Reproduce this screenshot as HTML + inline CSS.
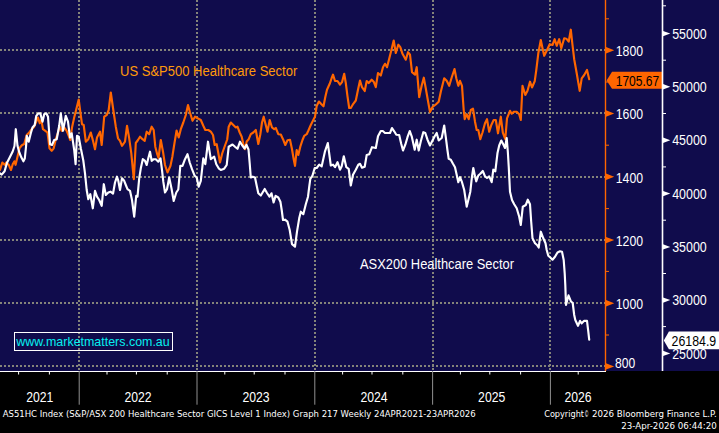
<!DOCTYPE html>
<html lang="en"><head><meta charset="utf-8"><title>Healthcare Sector Chart</title>
<style>html,body{margin:0;padding:0;background:#000;}body{width:719px;height:433px;overflow:hidden;}svg{display:block;}text{font-family:"Liberation Sans",sans-serif;}text.ft{font-family:"DejaVu Sans","Liberation Sans",sans-serif;}</style></head><body>
<svg width="719" height="433" viewBox="0 0 719 433">
<rect x="0" y="0" width="719" height="433" fill="#000"/>
<rect x="0" y="0" width="719" height="371" fill="#100c4c"/>
<g stroke="#84847a" stroke-width="2" stroke-dasharray="2 2" shape-rendering="crispEdges" fill="none">
<line x1="0" y1="50" x2="605" y2="50"/>
<line x1="0" y1="113" x2="605" y2="113"/>
<line x1="0" y1="177" x2="605" y2="177"/>
<line x1="0" y1="240" x2="605" y2="240"/>
<line x1="0" y1="303" x2="605" y2="303"/>
<line x1="0" y1="366" x2="605" y2="366"/>
<line x1="79" y1="0" x2="79" y2="371"/>
<line x1="197" y1="0" x2="197" y2="371"/>
<line x1="315" y1="0" x2="315" y2="371"/>
<line x1="433" y1="0" x2="433" y2="371"/>
<line x1="550" y1="0" x2="550" y2="371"/>
</g>
<polyline fill="none" stroke="#ff6600" stroke-width="2.15" stroke-linejoin="round" stroke-linecap="round" points="0,170 2.3,162.5 4.6,164.8 6.3,162.5 8.7,164.8 11,170 12.7,164.2 14.4,161.3 15.6,164.8 17.9,155 19.6,148 21.9,145.2 24.2,144 26.7,135 29.2,132.5 31.7,129.2 34.2,126.7 36.3,121.7 38,117.5 39.7,123.3 41.3,120 43,129.2 45.3,130.8 47.5,132.5 49.5,148.3 51.7,150.8 53.7,148.3 55.8,139.2 58,132.5 59.7,126.7 61.7,130.8 64.2,127.5 66.7,130.8 68.7,135.8 70.3,140 72,127.5 74.2,117.5 76.3,109.2 78.7,99.5 80.3,111.7 82,124.2 83.7,125 85.8,141.7 88.3,139.2 90.8,132.5 93,140.8 95,149.2 97,137.5 100,131.7 101.7,145 104.2,116.7 106.7,115 108.7,110 110.8,92.5 113.3,110 115.8,126.7 118,138.3 120,140.8 122,145.8 125,141.7 127,125.8 129.2,138.3 131.3,153.3 133.8,179.2 135.8,143 138,140 140,136.7 142.5,139.2 144.7,140.8 146.7,131.7 149.2,134.2 151.7,126.7 153.7,130 155.3,146.7 157.2,154.2 158.5,158 160.8,140 163,151.7 165,165 167.5,172.5 170.5,165.8 172.3,157 174.5,143 176.6,130.5 178.7,137.5 180.8,129.2 183.3,122.5 185.8,115 188,105 190,112.5 192.5,120.8 195,116.7 197.5,118.3 200.8,120 203.3,125.8 205.3,130 208.3,130 210.8,131.7 213,135 214.7,145 216.7,144.2 218.3,153 220,162.5 222.2,153.5 225,145.5 227.2,139.5 228.7,126.7 230.8,122.5 233.3,125 235.8,127.5 237.5,126.7 239.7,132.5 241.7,136.7 243.3,143.8 245,149.2 246.7,141.5 248.7,139.2 250.8,134.2 253.3,132.5 255.8,130 258.3,144 260.3,134.5 262,122.5 263.7,116.7 265.3,123.3 267.5,131.7 269.7,120 272,127.5 274.2,129.2 275.8,128 278.3,134.2 280.8,134.5 283,139.2 285.3,145 287.5,140.3 290,139.8 292,149.2 293.7,159.2 295,165.8 296.7,150 298.3,155 300.3,146.7 302.5,140 304.2,135.8 306.7,134.2 308.3,130.8 310.8,125 313.3,120 315,116.7 316.7,106 318.9,101.5 321.2,104 323.5,106.3 325.3,97 327,89.7 329.7,83.8 331.7,78 333,74.7 335,81 337.5,81 340,84.7 342,82.2 344.2,73.8 345.8,83 347.5,96.3 349.2,108 350.8,108 353.3,103.8 355.8,100.5 358,89.7 360,80.5 362,87.2 364.7,91 366.7,81 368.7,83 371.7,79.7 373.7,81.7 375.8,87.2 378,73 380.8,75.5 383,67.2 385,63.8 387,67.2 389.2,58.8 391.7,48.8 393.7,40.5 395.8,53 398.3,44.7 400.3,47.2 402.5,53.8 405.8,59.7 408,52.2 410,54.7 412,72.2 415,74.7 416.7,67.2 419.2,97.2 421.7,85.5 423.8,77.7 425.8,88.5 428,101 430,112 432.5,107 435.8,104.5 438.7,101.7 440.8,91.7 444.2,78.3 446.7,80.8 449.2,85.8 451.7,77.5 454.5,69 456.3,78.3 458.3,85.8 460,80.8 462,85.8 463.7,110 464.7,119.2 466.7,114.2 468.7,119.2 470.8,110 473,108.7 475,121.7 476.7,130 478.3,130 480.3,139.2 482.5,132.5 485,123.3 487,119.2 489.2,131.7 491.3,125 493.7,120 495.8,120 498,133.3 500.8,116.7 502.8,132.5 505.3,139.2 507,118.3 510,110.8 511.7,113.7 514.2,111.7 516.7,111.7 519.2,114.2 520.8,120 522.5,85.8 525.3,95 527.5,90.8 530,81.7 532,87.5 534.7,81.3 536.3,70 538.3,53.3 540.8,40 542.5,48.3 544.2,55.8 546.7,50.8 549.7,44.2 552.5,45 554.7,39.2 556.7,45.8 559.2,39.2 561.3,48.3 564.2,38.3 566.3,38.7 568.7,41.7 570.8,29.7 572.5,45 574.2,59.2 576.7,73.3 579.7,90.8 581.7,78.3 584.2,75 587,70 589.2,79.2"/>
<polyline fill="none" stroke="#ffffff" stroke-width="2.15" stroke-linejoin="round" stroke-linecap="round" points="0,173.5 1.7,174.6 4.6,171.2 6.9,163.1 9.8,157.3 12.7,151.5 14.5,146 15.8,129.2 17.5,145.8 19,151.5 21.3,157.3 23.4,161.3 24.8,158.5 26,147 26.8,135.8 28.7,141.7 30.8,133.3 32.5,127.5 34.7,125 36.3,115.8 38.3,113.3 40.3,113.3 42.5,121.7 44.2,114.2 46.3,113.3 48,116.7 50,144.2 52,145 54.2,140 56.7,139.2 59.2,125.8 60.8,113.3 63,130.8 65.8,115.8 68,121.7 70,137.5 71.7,133.3 74.2,150 75.6,164.2 77,135.8 78.7,136.7 80.8,148.3 83.3,160.5 85,173.3 86.7,190 88.3,199.2 90.3,194.2 92.8,208.3 95,190.8 97,196.7 99.2,200 101.7,205.8 103.8,184.2 105.8,195 108.3,192.5 110.5,191.7 113,193.7 115,182.5 117,176.7 118.3,180.8 120,190 122,178.3 124.2,180.8 125.8,185 127.5,189.2 130,190.8 132,200 134.2,216.7 136.2,195.8 137.5,196.7 139.2,178.3 140.8,168.3 142.8,159.2 145,160.8 146.7,165 148.3,158.3 150,151.7 151.7,160.8 153.7,159.2 155.8,159.2 158.3,161.7 160.5,158.3 162,170 163.3,181.7 165,192.5 167,189.2 169.2,177.5 171.5,188.5 173.7,201 176.3,192.5 178.3,189.5 180.3,165.8 182.5,165.8 185,159.2 187.5,154.2 189.7,162.5 192,169.2 194.7,175.8 196.7,177.5 198.7,186.7 200.8,180.8 203.3,158.3 205.3,164.2 208,141.7 210.8,159.2 214.2,156.7 216.3,164.2 218.7,168.3 220.8,170 224.2,168.7 226.7,165 228.7,146.7 232.5,144.5 235,146.7 237.5,148.8 240,141.7 242,145 244.6,148.5 246.5,144.8 248.5,149.5 249.7,163.3 250.8,177.5 252.8,176.7 255,177.5 256.7,185.8 258.3,193.3 260.8,195.5 262.3,193 264.7,189 267,193 269.5,196.7 271.5,193.3 273.6,202.5 275.6,195.8 278.3,197.5 280.4,201.7 281.7,210 283,220 285,219.7 287.5,221.7 289.7,230 292,244.2 295,246.7 297,231.7 299.2,218.3 300.8,211.7 303.3,214.2 305.8,204.2 308,196.7 309.2,187 310.3,178.8 312.5,175.5 314.7,168 316.7,168 319.2,164.7 321.7,166.3 325,151.3 327.8,143 330.8,165.5 333,164.7 335,167.2 337.5,162.2 340,169.7 341.7,166.3 343.8,156.3 346.3,167.2 348.7,168.8 350.8,185.5 353,174.7 355.8,169.7 358.3,164.7 360,163.8 362,167.7 364.7,166.7 366.7,155 369.2,154.3 372,147.2 375.8,148 378,136.3 380.8,131 382.8,131 385,133 390,133 392,128 394.2,131.3 396.3,134.7 399.2,135 401.2,143.8 403,150.5 405.3,144.7 407.5,137.2 409.7,131 411.7,136.3 414.7,149.7 416.7,139.7 418.7,150.5 420.8,141.3 423.3,132.2 425.3,133 427.5,139.7 430,145.5 432.5,140.5 434.7,136.3 436.7,133 438.7,140.5 441.7,138 444.2,125.5 445.8,137.2 447.5,150.5 448.7,158.8 450.8,159.7 453,163.8 455,167.2 457,176.3 458.3,182.2 460,177.2 462,182.2 464.2,190 466.7,206.7 470.3,191.7 472,176.3 473.3,168 475,176.3 476.2,181.3 478.3,175.5 480.3,173.8 482.8,171 485,176.3 487,178 489.2,176.3 491.7,182.2 493.3,169.7 495.3,171.3 497.5,153 499.2,145.5 501.3,140.5 503,143.8 505,148 506.7,138 507.8,151.3 508.8,168 510,191.7 512,200 514.2,204.2 516.7,208.3 519.2,216.7 520.8,225 522.8,206.7 525.8,205 527.8,199.7 530,204.2 531.2,221.7 532.5,238.3 535,243.3 537,245 538.7,247.5 540.8,231.7 543.3,238.3 545.5,243.3 546.7,250 548.3,255.8 550.3,257.5 552.5,259.7 555,256.7 557.5,252.5 560,251.3 562,251.7 563.7,260 564.7,273.3 565.3,285 566,305 568.5,295.4 570.8,301.2 572.7,303 574.2,315 575.3,320 578,325.8 580,320.8 581.7,323.3 584.2,320.8 587,320.8 588.3,331.7 589.2,339.7"/>
<rect x="0" y="371" width="606" height="1" fill="#fff"/>
<rect x="18.1" y="371" width="1" height="3.5" fill="#fff"/>
<rect x="48.9" y="371" width="1" height="3.5" fill="#fff"/>
<rect x="106.5" y="371" width="1" height="3.5" fill="#fff"/>
<rect x="135.9" y="371" width="1" height="3.5" fill="#fff"/>
<rect x="166.7" y="371" width="1" height="3.5" fill="#fff"/>
<rect x="224.3" y="371" width="1" height="3.5" fill="#fff"/>
<rect x="253.7" y="371" width="1" height="3.5" fill="#fff"/>
<rect x="284.5" y="371" width="1" height="3.5" fill="#fff"/>
<rect x="342.1" y="371" width="1" height="3.5" fill="#fff"/>
<rect x="371.5" y="371" width="1" height="3.5" fill="#fff"/>
<rect x="402.3" y="371" width="1" height="3.5" fill="#fff"/>
<rect x="459.9" y="371" width="1" height="3.5" fill="#fff"/>
<rect x="489.3" y="371" width="1" height="3.5" fill="#fff"/>
<rect x="520.1" y="371" width="1" height="3.5" fill="#fff"/>
<rect x="577.7" y="371" width="1" height="3.5" fill="#fff"/>
<rect x="78.7" y="371" width="1" height="33.7" fill="#909090"/>
<rect x="196.5" y="371" width="1" height="33.7" fill="#909090"/>
<rect x="314.3" y="371" width="1" height="33.7" fill="#909090"/>
<rect x="432.1" y="371" width="1" height="33.7" fill="#909090"/>
<rect x="549.9" y="371" width="1" height="33.7" fill="#909090"/>
<polygon points="606.6,80.4 612,71.8 662,71.8 662,88.8 612,88.8" fill="#ff6600"/>
<polygon points="662.6,340.5 668.4,330.8 719,330.8 719,350 668.4,350" fill="#100c4c"/>
<polygon points="663.8,340.5 668.9,331.6 719,331.6 719,349.2 668.9,349.2" fill="#fff"/>
<rect x="604.8" y="0" width="1.4" height="371" fill="#ff6600"/>
<polygon points="606,47.1 614.2,50.3 606,53.5" fill="#ff6600"/>
<polygon points="606,110.3 614.2,113.5 606,116.7" fill="#ff6600"/>
<polygon points="606,173.6 614.2,176.8 606,180.0" fill="#ff6600"/>
<polygon points="606,236.9 614.2,240.1 606,243.3" fill="#ff6600"/>
<polygon points="606,300.1 614.2,303.3 606,306.5" fill="#ff6600"/>
<polygon points="606,363.2 614.2,366.4 606,369.6" fill="#ff6600"/>
<rect x="606" y="18.3" width="3" height="1" fill="#ff6600"/>
<rect x="606" y="81.5" width="3" height="1" fill="#ff6600"/>
<rect x="606" y="144.7" width="3" height="1" fill="#ff6600"/>
<rect x="606" y="208.1" width="3" height="1" fill="#ff6600"/>
<rect x="606" y="270.9" width="3" height="1" fill="#ff6600"/>
<rect x="606" y="334.5" width="3" height="1" fill="#ff6600"/>
<rect x="661.7" y="0" width="1.6" height="371" fill="#fff"/>
<polygon points="663,30.9 670.3,33.6 663,36.3" fill="#fff"/>
<polygon points="663,84.1 670.3,86.8 663,89.5" fill="#fff"/>
<polygon points="663,137.5 670.3,140.2 663,142.9" fill="#fff"/>
<polygon points="663,190.9 670.3,193.6 663,196.3" fill="#fff"/>
<polygon points="663,244.2 670.3,246.9 663,249.6" fill="#fff"/>
<polygon points="663,297.4 670.3,300.1 663,302.8" fill="#fff"/>
<polygon points="663,350.7 670.3,353.4 663,356.1" fill="#fff"/>
<rect x="663" y="5.3" width="3" height="1" fill="#fff"/>
<rect x="663" y="59.7" width="3" height="1" fill="#fff"/>
<rect x="663" y="113.0" width="3" height="1" fill="#fff"/>
<rect x="663" y="166.4" width="3" height="1" fill="#fff"/>
<rect x="663" y="219.7" width="3" height="1" fill="#fff"/>
<rect x="663" y="273.0" width="3" height="1" fill="#fff"/>
<rect x="663" y="326.1" width="3" height="1" fill="#fff"/>
<text x="615.8" y="55.8" font-size="14" fill="#fff" textLength="27.3" lengthAdjust="spacingAndGlyphs">1800</text>
<text x="615.8" y="119.0" font-size="14" fill="#fff" textLength="27.3" lengthAdjust="spacingAndGlyphs">1600</text>
<text x="615.8" y="183.0" font-size="14" fill="#fff" textLength="27.3" lengthAdjust="spacingAndGlyphs">1400</text>
<text x="615.8" y="245.7" font-size="14" fill="#fff" textLength="27.3" lengthAdjust="spacingAndGlyphs">1200</text>
<text x="615.8" y="308.8" font-size="14" fill="#fff" textLength="27.3" lengthAdjust="spacingAndGlyphs">1000</text>
<text x="615.0" y="367.9" font-size="14" fill="#fff" textLength="20.2" lengthAdjust="spacingAndGlyphs">800</text>
<text x="672.2" y="38.8" font-size="14" fill="#fff" textLength="34.6" lengthAdjust="spacingAndGlyphs">55000</text>
<text x="672.2" y="92.0" font-size="14" fill="#fff" textLength="34.6" lengthAdjust="spacingAndGlyphs">50000</text>
<text x="672.2" y="145.4" font-size="14" fill="#fff" textLength="34.6" lengthAdjust="spacingAndGlyphs">45000</text>
<text x="672.2" y="198.8" font-size="14" fill="#fff" textLength="34.6" lengthAdjust="spacingAndGlyphs">40000</text>
<text x="672.2" y="252.1" font-size="14" fill="#fff" textLength="34.6" lengthAdjust="spacingAndGlyphs">35000</text>
<text x="672.2" y="305.3" font-size="14" fill="#fff" textLength="34.6" lengthAdjust="spacingAndGlyphs">30000</text>
<text x="672.2" y="358.6" font-size="14" fill="#fff" textLength="34.6" lengthAdjust="spacingAndGlyphs">25000</text>
<text x="615.7" y="86.1" font-size="14" fill="#000" textLength="43.6" lengthAdjust="spacingAndGlyphs">1705.67</text>
<text x="671.6" y="345.8" font-size="14" fill="#000" textLength="44.6" lengthAdjust="spacingAndGlyphs">26184.9</text>
<text x="120" y="76" font-size="14" fill="#ff9a0a" textLength="177.3" lengthAdjust="spacingAndGlyphs">US S&amp;P500 Healthcare Sector</text>
<text x="360" y="269.4" font-size="14" fill="#fff" textLength="154" lengthAdjust="spacingAndGlyphs">ASX200 Healthcare Sector</text>
<rect x="14.5" y="332.5" width="158" height="18" fill="none" stroke="#fff" stroke-width="1" shape-rendering="crispEdges"/>
<text x="16.3" y="346.3" font-size="13.5" fill="#06f0f0" textLength="153.4" lengthAdjust="spacingAndGlyphs">www.marketmatters.com.au</text>
<text x="26.2" y="402" font-size="14" fill="#fff" textLength="27.2" lengthAdjust="spacingAndGlyphs">2021</text>
<text x="124.4" y="402" font-size="14" fill="#fff" textLength="27.2" lengthAdjust="spacingAndGlyphs">2022</text>
<text x="242.4" y="402" font-size="14" fill="#fff" textLength="27.2" lengthAdjust="spacingAndGlyphs">2023</text>
<text x="360.4" y="402" font-size="14" fill="#fff" textLength="27.2" lengthAdjust="spacingAndGlyphs">2024</text>
<text x="478.1" y="402" font-size="14" fill="#fff" textLength="27.2" lengthAdjust="spacingAndGlyphs">2025</text>
<text x="564.4" y="402" font-size="14" fill="#fff" textLength="27.2" lengthAdjust="spacingAndGlyphs">2026</text>
<text x="2.7" y="417" font-size="8.8" class="ft" fill="#fff" textLength="473" lengthAdjust="spacingAndGlyphs">AS51HC Index (S&amp;P/ASX 200 Healthcare Sector GICS Level 1 Index) Graph 217 Weekly 24APR2021-23APR2026</text>
<text x="544.2" y="417" font-size="8.8" class="ft" fill="#fff" textLength="39.8" lengthAdjust="spacingAndGlyphs">Copyright</text>
<text x="584.6" y="417" font-size="8" class="ft" fill="#fff" textLength="4.2" lengthAdjust="spacingAndGlyphs">©</text>
<text x="592" y="417" font-size="8.8" class="ft" fill="#fff" textLength="124.7" lengthAdjust="spacingAndGlyphs">2026 Bloomberg Finance L.P.</text>
<text x="621.3" y="429.2" font-size="8.8" class="ft" fill="#fff" textLength="95.4" lengthAdjust="spacingAndGlyphs">23-Apr-2026 06:44:20</text>
</svg></body></html>
